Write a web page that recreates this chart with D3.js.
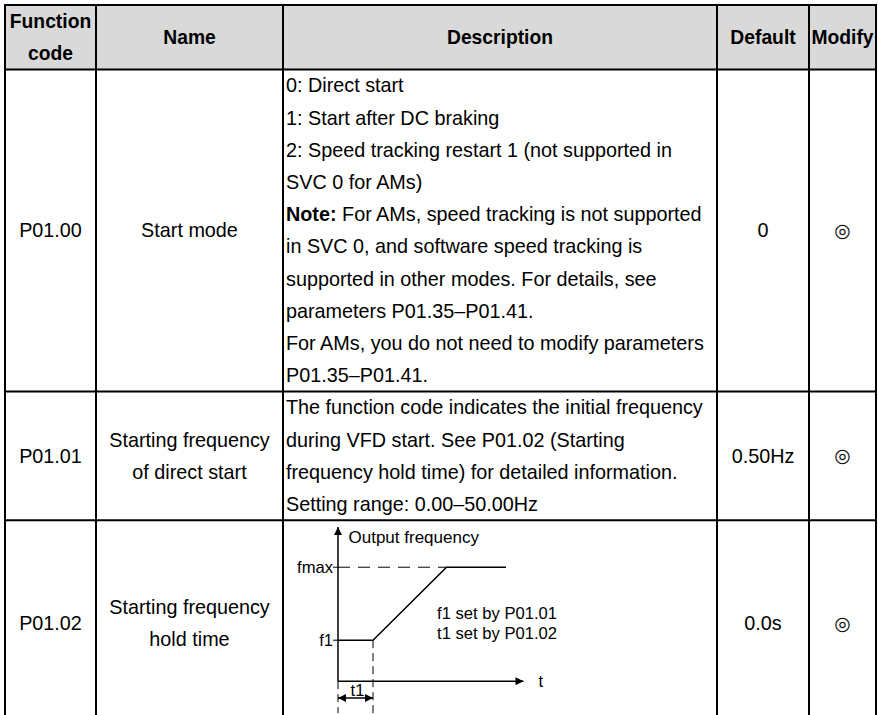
<!DOCTYPE html>
<meta charset="utf-8">
<style>
body { margin: 0; background: #fff; overflow: hidden; }
svg { display: block; font-family: "Liberation Sans", Arial, sans-serif; }
.grid { stroke: #000; stroke-width: 2; fill: none; }
.head { font-weight: bold; font-size: 19.3px; }
.cell { font-size: 19.8px; }
.diag { font-size: 16.6px; }
</style>
<body>
<script src="https://cdn.jsdelivr.net/npm/d3@7"></script>
<script>

// table content
var headers = [["Function", "code"], ["Name"], ["Description"], ["Default"], ["Modify"]];
var codes = ["P01.00", "P01.01", "P01.02"];
var names = [["Start mode"], ["Starting frequency", "of direct start"], ["Starting frequency", "hold time"]];
var descriptions = [
  ["0: Direct start",
   "1: Start after DC braking",
   "2: Speed tracking restart 1 (not supported in",
   "SVC 0 for AMs)",
   "Note: For AMs, speed tracking is not supported",
   "in SVC 0, and software speed tracking is",
   "supported in other modes. For details, see",
   "parameters P01.35\u2013P01.41.",
   "For AMs, you do not need to modify parameters",
   "P01.35\u2013P01.41."],
  ["The function code indicates the initial frequency",
   "during VFD start. See P01.02 (Starting",
   "frequency hold time) for detailed information.",
   "Setting range: 0.00\u201350.00Hz"],
  null
];
var defaults = ["0", "0.50Hz", "0.0s"];
var modifies = ["\u25ce", "\u25ce", "\u25ce"];

// start-frequency diagram (time in units of t1, frequency in units of f1)
var profileT = [0, 1, 3.1, 4.8];
var profileF = [1, 1, 2.78, 2.78];
var f1Level = 1, fmaxLevel = 2.78, t1Level = 1;
var notes = ["f1 set by P01.01", "t1 set by P01.02"];

var W = 878, H = 715;
var tableX = 5, tableY = 5, lh = 32.2;
var colW = [91, 187, 434, 92, 67];
var colX = [tableX];
colW.forEach(function(w, i) { colX.push(colX[i] + w); });
var diagH = 206;

var rowH = [d3.max(headers, function(h) { return h.length; }) * lh];
codes.forEach(function(c, i) {
  var n = Math.max(1, names[i].length, descriptions[i] ? descriptions[i].length : 0);
  rowH.push(descriptions[i] ? n * lh : diagH);
});
var rowY = [tableY];
rowH.forEach(function(h, i) { rowY.push(rowY[i] + h); });

var svg = d3.select("body").append("svg").attr("width", W).attr("height", H);

// header shading
svg.append("rect")
    .attr("x", colX[0]).attr("y", rowY[0])
    .attr("width", colX[5] - colX[0]).attr("height", rowH[0])
    .attr("fill", "#d9d9d9");

function block(g, lines, cx, y0, h, cls, anchor) {
  var start = y0 + (h - lines.length * lh) / 2;
  lines.forEach(function(line, k) {
    var t = g.append("text")
        .attr("class", cls)
        .attr("x", cx)
        .attr("y", start + (k + 0.5) * lh)
        .attr("dy", "0.35em")
        .attr("text-anchor", anchor || "middle");
    if (line.indexOf("Note:") === 0) {
      t.append("tspan").attr("font-weight", "bold").text("Note:");
      t.append("tspan").text(line.slice(5));
    } else {
      t.text(line);
    }
  });
}

var g = svg.append("g");
headers.forEach(function(h, c) {
  block(g, h, (colX[c] + colX[c + 1]) / 2, rowY[0], rowH[0], "head");
});

codes.forEach(function(code, i) {
  var y0 = rowY[i + 1], h = rowH[i + 1];
  block(g, [code], (colX[0] + colX[1]) / 2, y0, h, "cell");
  block(g, names[i], (colX[1] + colX[2]) / 2, y0, h, "cell");
  if (descriptions[i]) block(g, descriptions[i], colX[2] + 3, y0, h, "cell", "start");
  block(g, [defaults[i]], (colX[3] + colX[4]) / 2, y0, h, "cell");
  g.append("text")
      .attr("x", (colX[4] + colX[5]) / 2)
      .attr("y", y0 + h / 2)
      .attr("dy", "0.35em")
      .attr("text-anchor", "middle")
      .style("font-family", "'DejaVu Sans', sans-serif")
      .style("font-size", "19px")
      .text(modifies[i]);
});

// diagram in the last description cell
var ox = colX[2] + 55, oy = rowY[3] + 161;
var x = d3.scaleLinear().domain([0, 1]).range([ox, ox + 35]);
var y = d3.scaleLinear().domain([0, 1]).range([oy, oy - 41]);
var d = svg.append("g").attr("class", "diag");

var defs = svg.append("defs");
defs.append("marker").attr("id", "arr")
    .attr("viewBox", "0 0 10 10").attr("refX", 10).attr("refY", 5)
    .attr("markerWidth", 10).attr("markerHeight", 8).attr("markerUnits", "userSpaceOnUse")
    .attr("orient", "auto-start-reverse")
  .append("path").attr("d", "M0,0L10,5L0,10Z").attr("fill", "#000");

// axes
d.append("line").attr("x1", x(0)).attr("y1", y(0)).attr("x2", x(0)).attr("y2", y(3.76))
    .attr("stroke", "#000").attr("stroke-width", 1.5).attr("marker-end", "url(#arr)");
d.append("line").attr("x1", x(0)).attr("y1", y(0)).attr("x2", x(5.3)).attr("y2", y(0))
    .attr("stroke", "#000").attr("stroke-width", 1.5).attr("marker-end", "url(#arr)");

// dashed guides
d.append("line").attr("x1", x(0)).attr("y1", y(fmaxLevel)).attr("x2", x(profileT[2])).attr("y2", y(fmaxLevel))
    .attr("stroke", "#000").attr("stroke-width", 1).attr("stroke-dasharray", "12,8");
[0, t1Level].forEach(function(t) {
  d.append("line").attr("x1", x(t)).attr("y1", t ? y(f1Level) : y(0)).attr("x2", x(t)).attr("y2", y(-0.78))
      .attr("stroke", "#000").attr("stroke-width", 1).attr("stroke-dasharray", "8,5");
});

// ticks and level labels
[[fmaxLevel, "fmax"], [f1Level, "f1"]].forEach(function(p) {
  d.append("line").attr("x1", x(0) - 5).attr("x2", x(0)).attr("y1", y(p[0])).attr("y2", y(p[0]))
      .attr("stroke", "#000").attr("stroke-width", 1);
  d.append("text").attr("x", x(0) - 5).attr("y", y(p[0])).attr("dy", "0.35em")
      .attr("text-anchor", "end").text(p[1]);
});

// frequency profile
d.append("path")
    .attr("d", d3.line().x(function(v, i) { return x(profileT[i]); }).y(function(v) { return y(v); })(profileF))
    .attr("fill", "none").attr("stroke", "#000").attr("stroke-width", 1.5);

// t1 span
d.append("line").attr("x1", x(0)).attr("x2", x(t1Level)).attr("y1", y(-0.41)).attr("y2", y(-0.41))
    .attr("stroke", "#000").attr("stroke-width", 1.5)
    .attr("marker-start", "url(#arr)").attr("marker-end", "url(#arr)");
d.append("text").attr("x", x(t1Level / 2) + 2).attr("y", y(-0.22)).attr("dy", "0.35em")
    .attr("text-anchor", "middle").text("t1");

d.append("text").attr("x", x(0.3)).attr("y", y(3.52)).attr("dy", "0.35em")
    .style("font-size", "17px").text("Output frequency");
d.append("text").attr("x", x(5.73)).attr("y", y(0)).attr("dy", "0.35em").text("t");
notes.forEach(function(n, k) {
  d.append("text").attr("x", x(2.83)).attr("y", y(1.66 - k * 0.49)).attr("dy", "0.35em").text(n);
});

// grid lines
var grid = svg.append("g").attr("class", "grid");
rowY.forEach(function(ry) {
  grid.append("line").attr("x1", colX[0] - 1).attr("x2", colX[5] + 1).attr("y1", ry).attr("y2", ry);
});
colX.forEach(function(cx) {
  grid.append("line").attr("x1", cx).attr("x2", cx).attr("y1", rowY[0] - 1).attr("y2", rowY[rowY.length - 1]);
});

</script>
</body>
